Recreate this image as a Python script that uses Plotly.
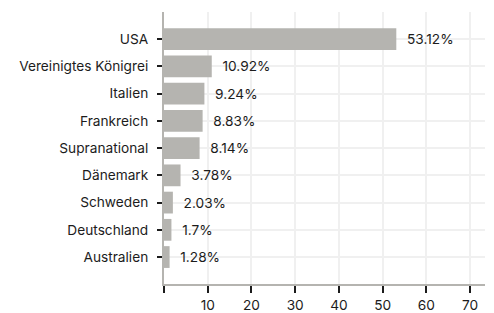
import plotly.graph_objects as go

countries = ["USA", "Vereinigtes Königrei", "Italien", "Frankreich", "Supranational",
             "Dänemark", "Schweden", "Deutschland", "Australien"]
values = [53.12, 10.92, 9.24, 8.83, 8.14, 3.78, 2.03, 1.7, 1.28]
labels = ["53.12%", "10.92%", "9.24%", "8.83%", "8.14%", "3.78%", "2.03%", "1.7%", "1.28%"]
x_ticks = [0, 10, 20, 30, 40, 50, 60, 70]
x_tick_text = ["", "10", "20", "30", "40", "50", "60", "70"]

FONT = "Inter, Roboto, sans-serif"
FS = 13.7

fig = go.Figure(go.Bar(
    x=values, y=countries, orientation="h",
    marker=dict(color="#b5b4b0", line=dict(width=0)),
    width=0.8,
    text=["\u00a0\u00a0" + t for t in labels], textposition="outside", cliponaxis=False,
    textfont=dict(family=FONT, size=FS, color="#1c1c1c"),
))

fig.update_layout(
    width=494, height=313,
    margin=dict(l=164, r=9, t=12, b=29, autoexpand=False),
    paper_bgcolor="white", plot_bgcolor="white",
    font=dict(family=FONT, size=FS, color="#1c1c1c"),
    showlegend=False,
    bargap=0.2,
)
fig.update_xaxes(
    range=[0, 73.4], tickvals=x_ticks, ticktext=x_tick_text,
    showgrid=True, gridcolor="#f0f0f0", gridwidth=2,
    showline=True, linecolor="#b5b4b0", linewidth=2,
    ticks="outside", ticklen=7, tickcolor="#1c1c1c", tickwidth=2,
    zeroline=False, ticklabelstandoff=1, automargin=False,
)
fig.update_yaxes(
    categoryorder="array", categoryarray=countries,
    range=[8.99, -1],
    showgrid=True, gridcolor="#f0f0f0", gridwidth=2,
    showline=True, linecolor="#b5b4b0", linewidth=2,
    ticks="outside", ticklen=5, tickcolor="#1c1c1c", tickwidth=2,
    ticklabelstandoff=6, automargin=False,
)

fig.write_html(
    "out.html",
    config={"displayModeBar": False},
    post_script="document.body.style.margin='0';document.body.style.overflow='hidden';",
)
